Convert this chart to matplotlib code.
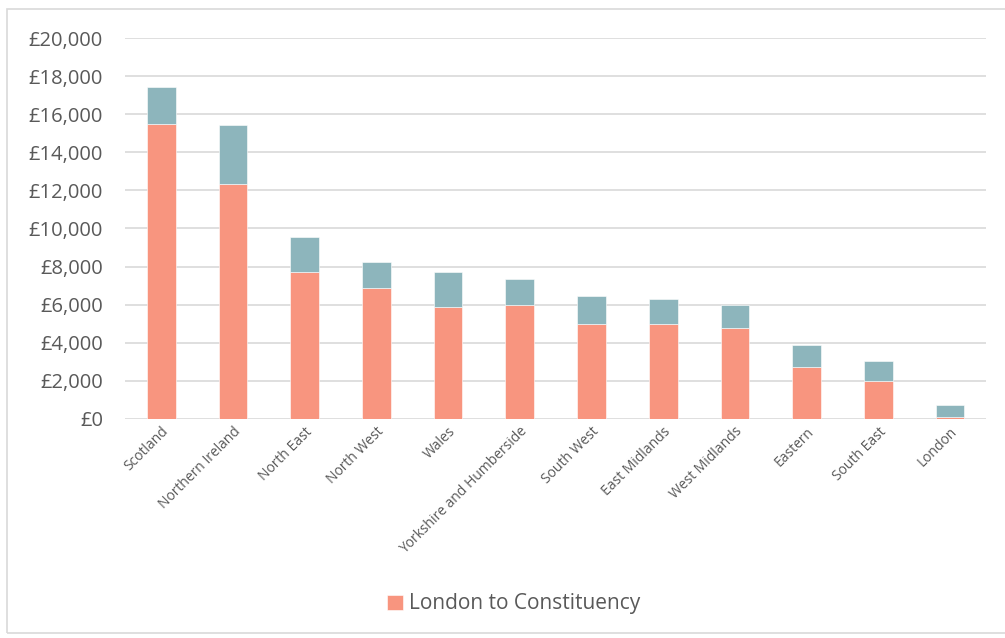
import numpy as np
import matplotlib.pyplot as plt
from matplotlib.patches import Rectangle

# regions and costs (pounds)
regions = ["Scotland", "Northern Ireland", "North East", "North West", "Wales",
           "Yorkshire and Humberside", "South West", "East Midlands",
           "West Midlands", "Eastern", "South East", "London"]
london_to_constituency = [15480, 12320, 7700, 6870, 5860, 5960, 4980, 4980,
                          4780, 2700, 1980, 100]
totals = [17440, 15420, 9540, 8240, 7700, 7340, 6450, 6310, 5990, 3870, 3050, 720]
extra = [t - b for t, b in zip(totals, london_to_constituency)]

yticks = np.arange(0, 20001, 2000)

plt.rcParams['font.family'] = ['Open Sans', 'DejaVu Sans']

fig = plt.figure(figsize=(10.05, 6.38), dpi=100)
ax = fig.add_axes([125.3 / 1005, 1 - 418.7 / 638, (986 - 125.3) / 1005, (418.7 - 38.3) / 638])

x = np.arange(len(regions))
ax.bar(x, london_to_constituency, width=0.4, color='#F8957F', edgecolor='white',
       linewidth=0.4, label='London to Constituency', zorder=3)
ax.bar(x, extra, width=0.4, bottom=london_to_constituency, color='#8DB5BC',
       edgecolor='white', linewidth=0.4, zorder=3)

ax.set_xlim(-0.5, len(regions) - 0.5)
ax.set_ylim(0, 20000)
ax.set_yticks(yticks)
ax.set_yticklabels(['£{:,}'.format(v) for v in yticks], fontsize=14.5, color='#595959')
ax.yaxis.grid(True, color='#D9D9D9', linewidth=1.2, zorder=0)
ax.tick_params(axis='y', length=0, pad=16)
ax.tick_params(axis='x', length=0, pad=4)
ax.set_xticks(x)
ax.set_xticklabels(regions, rotation=45, ha='right', rotation_mode='anchor',
                   fontsize=10, color='#595959')
for s in ax.spines.values():
    s.set_visible(False)

handles, labels = ax.get_legend_handles_labels()
fig.legend(handles, labels, loc='center', bbox_to_anchor=(514 / 1005, 1 - 604 / 638),
           frameon=False, fontsize=15, labelcolor='#595959', handlelength=0.75,
           handleheight=0.75, handletextpad=0.3)

# chart border
fig.patches.append(Rectangle((7 / 1005, 1 - 633 / 638), 1.0, (633 - 9) / 638,
                             transform=fig.transFigure, fill=False,
                             edgecolor='#D9D9D9', linewidth=1.2))

fig.savefig('out.png', dpi=100)
